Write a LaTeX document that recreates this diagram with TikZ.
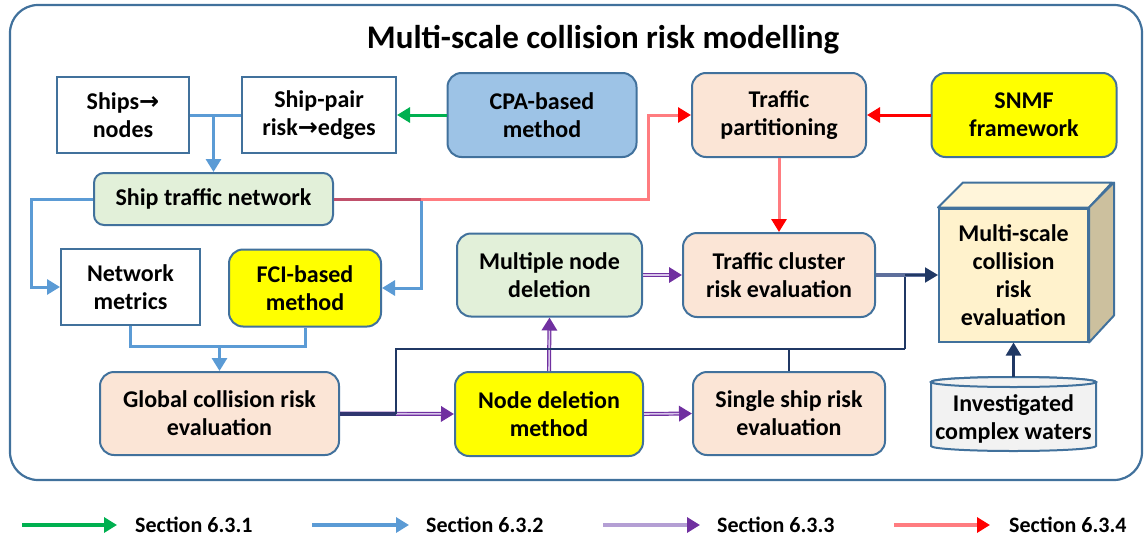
\documentclass[tikz,border=0pt]{standalone}
\usepackage{fontspec}
\setmainfont{Carlito}
\newfontfamily\arrfont{DejaVu Sans}
\usetikzlibrary{arrows.meta}
\definecolor{bord}{HTML}{41719C}
\definecolor{bline}{HTML}{5B9BD5}
\definecolor{gline}{HTML}{00B050}
\definecolor{rline}{HTML}{FF7C80}
\definecolor{rhead}{HTML}{FF0000}
\definecolor{rdark}{HTML}{C0506B}
\definecolor{purp}{HTML}{7030A0}
\definecolor{plight}{HTML}{D8C6EA}
\definecolor{plegend}{HTML}{B49FD4}
\definecolor{navy}{HTML}{203864}
\definecolor{navyg}{HTML}{5E6F9C}
\definecolor{peach}{HTML}{FBE5D6}
\definecolor{lgreen}{HTML}{E2F0D9}
\definecolor{cpab}{HTML}{9DC3E6}
\definecolor{ylw}{HTML}{FFFF00}
\definecolor{cubefront}{HTML}{FFF2CC}
\definecolor{cubetop}{HTML}{FFF5DA}
\definecolor{cubeside}{HTML}{CCC09E}
\definecolor{cylfill}{HTML}{F2F2F2}
\newcommand{\myarr}{{\arrfont\bfseries →}}
\begin{document}
\begin{tikzpicture}[x=1pt,y=-1pt,
  every node/.style={font=\fontsize{24}{28}\selectfont\bfseries, align=center, inner sep=2pt},
  plainbox/.style={draw=bord, line width=2pt, fill=white},
  rbox/.style={draw=bord, line width=2pt, rounded corners=14pt},
  tipA/.style={-{Triangle[length=13pt,width=15pt]}},
  bl/.style={draw=bline, line width=3pt},
  barr/.style={bl, tipA},
  garr/.style={draw=gline, line width=3pt, tipA},
  rl/.style={draw=rline, line width=3pt},
  rarr/.style={rl, -{Triangle[length=13pt,width=15pt,color=rhead]}},
  parr/.style={draw=purp, line width=4pt, tipA, postaction={draw=plight, line width=1.6pt, -, shorten >=13pt}},
  navyl/.style={draw=navy, line width=2pt},
  navyarr/.style={navyl, tipA},
  legtext/.style={font=\fontsize{22}{26}\selectfont\bfseries, anchor=west, inner sep=0pt}
]
\useasboundingbox (0,0) rectangle (1145,538);
% frame
\draw[draw=bord, line width=2.2pt, rounded corners=28pt] (10,5) rectangle (1142,480);
\node[font=\fontsize{33}{38}\selectfont\bfseries] (title) at (603,40) {Multi-scale collision risk modelling};

% nodes
\node[plainbox, minimum width=132pt, minimum height=76pt] (sn) at (123,115) {Ships\myarr\\nodes};
\node[plainbox, minimum width=154pt, minimum height=76pt] (sp) at (319,115) {Ship-pair\\risk\myarr edges};
\node[rbox, fill=cpab, minimum width=189pt, minimum height=84pt] (cpa) at (542,115) {CPA-based\\method};
\node[rbox, fill=peach, minimum width=174pt, minimum height=84pt] (tp) at (779,115) {Traffic\\partitioning};
\node[rbox, fill=ylw, minimum width=185pt, minimum height=84pt] (snmf) at (1024,115) {SNMF\\framework};
\node[rbox, fill=lgreen, minimum width=239pt, minimum height=52pt, rounded corners=10pt] (stn) at (213.5,199) {Ship traffic network};
\node[plainbox, minimum width=139pt, minimum height=76pt] (nm) at (130.5,287) {Network\\metrics};
\node[rbox, fill=ylw, minimum width=152pt, minimum height=77pt] (fci) at (305,288) {FCI-based\\method};
\node[rbox, fill=lgreen, minimum width=185pt, minimum height=83pt] (mnd) at (549.5,275) {Multiple node\\deletion};
\node[rbox, fill=peach, minimum width=192pt, minimum height=84pt] (tcr) at (779,275) {Traffic cluster\\risk evaluation};
\node[rbox, fill=peach, minimum width=239pt, minimum height=83pt] (gcr) at (219.5,413.5) {Global collision risk\\evaluation};
\node[rbox, fill=ylw, minimum width=188pt, minimum height=84pt] (ndm) at (549,414) {Node deletion\\method};
\node[rbox, fill=peach, minimum width=192pt, minimum height=83pt] (ssr) at (789,413.5) {Single ship risk\\evaluation};

% cube
\node[draw=bord, line width=2pt, fill=cubefront, minimum width=149pt, minimum height=133pt] (cube) at (1013.5,275) {Multi-scale\\collision\\risk\\evaluation};
\filldraw[draw=bord, line width=2pt, fill=cubetop, line join=round] (cube.north west) -- ++(25,-25) -- ++(149,0) -- (cube.north east) -- cycle;
\filldraw[draw=bord, line width=2pt, fill=cubeside, line join=round] (cube.north east) -- ++(25,-25) -- ++(0,133) -- (cube.south east) -- cycle;

% cylinder
\filldraw[draw=bord, line width=2pt, fill=cylfill] (931,382) -- (931,446) arc[start angle=180, end angle=360, x radius=82.5pt, y radius=5pt] -- (1096,382) arc[start angle=0, end angle=180, x radius=82.5pt, y radius=5pt] -- cycle;
\draw[draw=bord, line width=2pt, fill=cylfill] (1013.5,382) ellipse[x radius=82.5pt, y radius=5pt];
\node (cyl) at (1013.5,419) {Investigated\\complex waters};
\coordinate (cyltop) at (1013.5,377);

% blue connectors
\coordinate (j1) at (stn.north |- sn.east);
\draw[bl] (sn.east) -- (sp.west);
\draw[barr] (j1) -- (stn.north);
\draw[barr] (stn.west) -- ++(-62,0) |- (nm.west);
\draw[barr] (stn.east) -- ++(87,0) |- (fci.east);
\coordinate (j2) at (gcr.north |- 0,346);
\draw[bl] (nm.south) |- (j2) -| (fci.south);
\draw[barr] (j2) -- (gcr.north);

% green
\draw[garr] (cpa.west) -- (sp.east);

% red
\coordinate (r1) at (648,199);
\draw[rl] (stn.east) -- (r1) |- ([xshift=-13pt]tp.west);
\draw[rarr] (r1 |- tp.west) -- (tp.west);
\draw[draw=rdark, line width=3pt] (stn.east) -- ++(87,0);
\draw[draw=rhead, line width=3pt, tipA] (snmf.west) -- (tp.east);
\draw[rarr] (tp.south) -- (tcr.north);

% purple
\draw[parr] (gcr.east) -- (ndm.west);
\draw[parr] (ndm.north) -- (mnd.south);
\draw[parr] (mnd.east) -- (tcr.west);
\draw[parr] (ndm.east) -- (ssr.west);

% navy
\coordinate (n1) at (396,413.5);
\coordinate (n2) at (905,349);
\draw[draw=navy!80!purp, line width=4pt] (gcr.east) -- (n1);
\draw[navyl] (n1) |- (n2);
\draw[navyl] (ssr.north) -- (ssr.north |- n2);
\draw[navyl] (n2) -- (n2 |- tcr.east);
\draw[draw=navyg, line width=3.5pt] (tcr.east) -- ([xshift=-13pt]cube.west);
\draw[navyarr] (n2 |- tcr.east) -- (cube.west);
\draw[draw=navy, line width=2.5pt, tipA] (cyltop) -- (cube.south);

% legend
\coordinate (la1) at (22,525); \coordinate (lb1) at (117,525);
\coordinate (la2) at (312,525); \coordinate (lb2) at (409,525);
\coordinate (la3) at (603,525); \coordinate (lb3) at (700,525);
\coordinate (la4) at (894,525); \coordinate (lb4) at (990,525);
\node[legtext] (lt1) at (135,525) {Section 6.3.1};
\node[legtext] (lt2) at (426,525) {Section 6.3.2};
\node[legtext] (lt3) at (717,525) {Section 6.3.3};
\node[legtext] (lt4) at (1009,525) {Section 6.3.4};
\draw[draw=gline, line width=3.5pt, tipA] (la1) -- (lb1);
\draw[draw=bline, line width=3.5pt, tipA] (la2) -- (lb2);
\draw[draw=plegend, line width=4pt, -{Triangle[length=13pt,width=15pt,color=purp]}] (la3) -- (lb3);
\draw[draw=rline, line width=3.5pt, -{Triangle[length=13pt,width=15pt,color=rhead]}] (la4) -- (lb4);
\end{tikzpicture}
\end{document}
